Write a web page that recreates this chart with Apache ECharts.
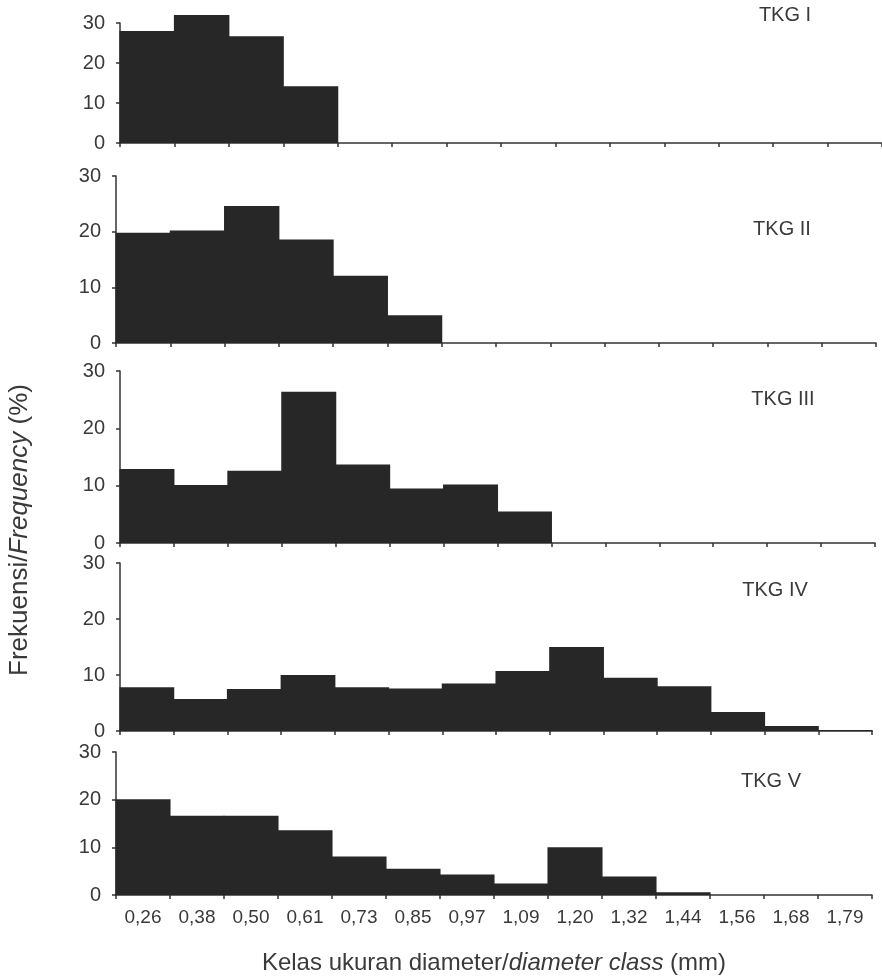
<!DOCTYPE html>
<html>
<head>
<meta charset="utf-8">
<script src="https://cdn.jsdelivr.net/npm/echarts@6/dist/echarts.min.js"></script>
<style>
html,body{margin:0;padding:0;background:#fff;}
#chart{width:882px;height:978px;}
</style>
</head>
<body>
<div id="chart"></div>
<script>
const categories = ['0,26','0,38','0,50','0,61','0,73','0,85','0,97','1,09','1,20','1,32','1,44','1,56','1,68','1,79'];
const panelNames = ['TKG I','TKG II','TKG III','TKG IV','TKG V'];
const tkg1 = [28, 32, 26.7, 14.2, 0, 0, 0, 0, 0, 0, 0, 0, 0, 0];
const tkg2 = [19.8, 20.2, 24.6, 18.6, 12.1, 5.0, 0, 0, 0, 0, 0, 0, 0, 0];
const tkg3 = [12.9, 10.1, 12.6, 26.4, 13.7, 9.5, 10.2, 5.5, 0, 0, 0, 0, 0, 0];
const tkg4 = [7.8, 5.7, 7.5, 10.0, 7.8, 7.6, 8.5, 10.7, 15.0, 9.5, 8.0, 3.4, 0.9, 0.2];
const tkg5 = [20.1, 16.6, 16.6, 13.6, 8.1, 5.5, 4.3, 2.4, 10.0, 3.9, 0.6, 0, 0, 0];
const yTicks = [0, 10, 20, 30];

const seriesData = [tkg1, tkg2, tkg3, tkg4, tkg5];
const grids = [
  {left: 120, top: 23, width: 826, height: 120},
  {left: 116, top: 176, width: 760, height: 167},
  {left: 120, top: 371, width: 755, height: 172},
  {left: 120, top: 563, width: 752, height: 168},
  {left: 116, top: 752, width: 756, height: 143}
];
const titlePos = [[785, 15], [782, 229], [783, 399], [775, 590], [771, 781]];

const font = 'Liberation Sans, Arial, sans-serif';
const axisColor = '#333';
const textColor = '#3a3a3a';
const barColor = '#272727';

const option = {
  backgroundColor: '#fff',
  animation: false,
  textStyle: {fontFamily: font},
  grid: grids.map(g => Object.assign({containLabel: false}, g)),
  xAxis: grids.map((g, i) => ({
    type: 'category',
    gridIndex: i,
    data: categories,
    boundaryGap: true,
    axisLine: {show: true, lineStyle: {color: axisColor, width: 1.5}},
    axisTick: {show: true, length: 4, lineStyle: {color: axisColor, width: 1.5}},
    axisLabel: {show: i === 4, color: textColor, fontSize: 19, margin: 13, fontFamily: font, interval: 0},
    splitLine: {show: false},
    name: i === 4 ? '{n|Kelas ukuran diameter/}{it|diameter class}{n| (mm)}' : '',
    nameLocation: 'middle',
    nameGap: 56,
    nameTextStyle: {
      rich: {
        n: {fontSize: 24, color: textColor, fontFamily: font},
        it: {fontSize: 24, color: textColor, fontFamily: font, fontStyle: 'italic'}
      }
    }
  })),
  yAxis: grids.map((g, i) => ({
    type: 'value',
    gridIndex: i,
    min: 0,
    max: 30,
    interval: 10,
    axisLine: {show: true, lineStyle: {color: axisColor, width: 1.5}},
    axisTick: {show: true, length: 4, lineStyle: {color: axisColor, width: 1.5}},
    axisLabel: {
      color: textColor, fontSize: 20, margin: 15, fontFamily: font,
      formatter: v => yTicks.includes(v) ? String(v) : ''
    },
    splitLine: {show: false}
  })),
  series: seriesData.map((d, i) => ({
    type: 'bar',
    name: panelNames[i],
    xAxisIndex: i,
    yAxisIndex: i,
    data: d,
    barWidth: '102%',
    barGap: '0%',
    clip: false,
    itemStyle: {color: barColor}
  })),
  graphic: panelNames.map((n, i) => ({
    type: 'text',
    x: titlePos[i][0],
    y: titlePos[i][1],
    style: {
      text: n,
      fill: textColor,
      font: '20px ' + font,
      textAlign: 'center',
      textVerticalAlign: 'middle'
    }
  })).concat([{
    type: 'text',
    x: 20,
    y: 530,
    rotation: Math.PI / 2,
    style: {
      text: '{n|Frekuensi/}{it|Frequency}{n| (%)}',
      textAlign: 'center',
      textVerticalAlign: 'middle',
      rich: {
        n: {fontSize: 26, fill: textColor, fontFamily: font},
        it: {fontSize: 26, fill: textColor, fontFamily: font, fontStyle: 'italic'}
      }
    }
  }])
};

const chart = echarts.init(document.getElementById('chart'), null, {renderer: 'canvas'});
chart.setOption(option);
</script>
</body>
</html>
